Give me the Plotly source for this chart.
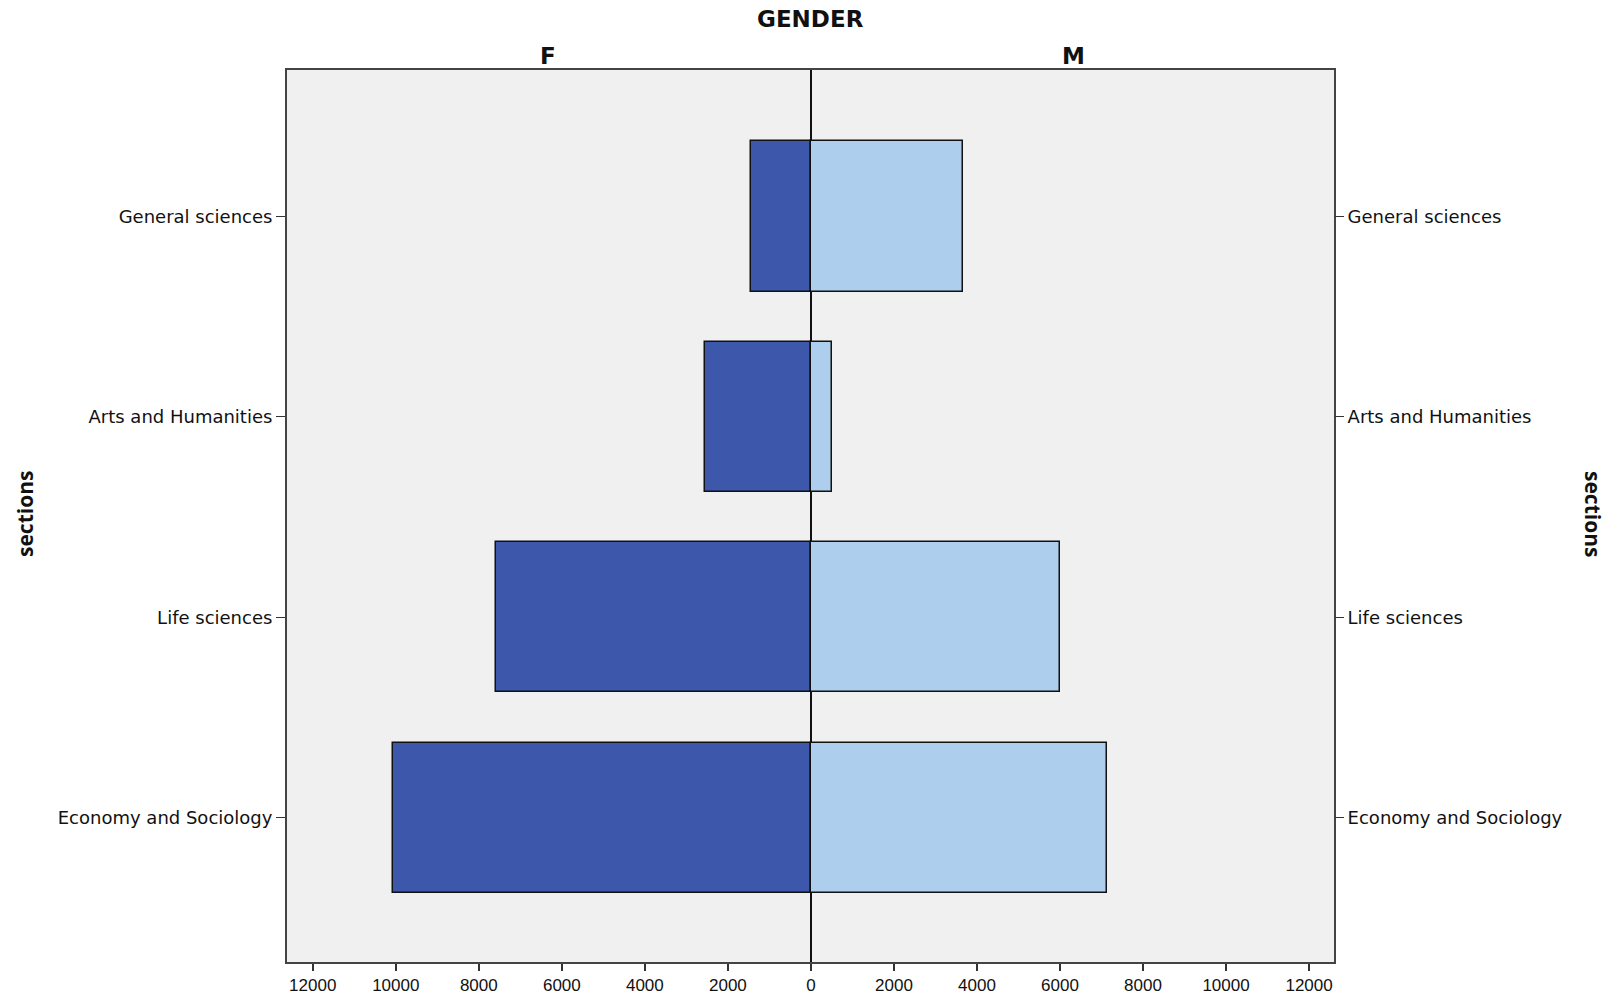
import plotly.graph_objects as go

categories = ["General sciences", "Arts and Humanities", "Life sciences", "Economy and Sociology"]
female = [1440, 2545, 7595, 10070]
male = [3665, 510, 5995, 7130]
tick_values = [-12000, -10000, -8000, -6000, -4000, -2000, 0, 2000, 4000, 6000, 8000, 10000, 12000]
tick_labels = [str(abs(v)) for v in tick_values]

ypos = list(range(len(categories)))

fig = go.Figure()
fig.add_trace(go.Bar(
    y=ypos, x=[-v for v in female], orientation="h", name="F",
    marker=dict(color="#3D58AB", line=dict(color="#111111", width=1.5)),
    width=0.75, showlegend=False, hoverinfo="skip",
))
fig.add_trace(go.Bar(
    y=ypos, x=male, orientation="h", name="M",
    marker=dict(color="#ADCFED", line=dict(color="#111111", width=1.5)),
    width=0.75, showlegend=False, hoverinfo="skip",
))
# invisible trace to activate right-hand category axis
fig.add_trace(go.Scatter(
    x=[0], y=[0], yaxis="y2", mode="markers", marker=dict(opacity=0),
    showlegend=False, hoverinfo="skip",
))

font_cat = dict(family="DejaVu Sans, Arial, sans-serif", size=18, color="#111111")

plot_l, plot_r, plot_t, plot_b = 287, 1334, 70, 962
W, H = 1612, 997

def px_to_paper(xp, yp):
    return (xp - plot_l) / (plot_r - plot_l), (plot_b - yp) / (plot_b - plot_t)

anns = []
for text, xp, yp, ang, fam, size in [
    ("<b>GENDER</b>", 810, 19, 0, "DejaVu Sans, Arial, sans-serif", 23),
    ("<b>F</b>", 548, 56, 0, "DejaVu Sans, Arial, sans-serif", 23),
    ("<b>M</b>", 1073, 56, 0, "DejaVu Sans, Arial, sans-serif", 23),
    ("<b>sections</b>", 25, 514, -90, "Open Sans, DejaVu Sans, sans-serif", 21),
    ("<b>sections</b>", 1593, 514, 90, "Open Sans, DejaVu Sans, sans-serif", 21),
]:
    xpp, ypp = px_to_paper(xp, yp)
    anns.append(dict(text=text, x=xpp, y=ypp, xref="paper", yref="paper",
                     showarrow=False, textangle=ang, xanchor="center", yanchor="middle",
                     font=dict(family=fam, size=size, color="#111111")))

fig.update_layout(
    width=W, height=H,
    margin=dict(l=plot_l, r=W - plot_r, t=plot_t, b=H - plot_b, pad=0),
    paper_bgcolor="white",
    plot_bgcolor="#F0F0F0",
    barmode="overlay",
    bargap=0,
    xaxis=dict(
        range=[-12620, 12600],
        tickvals=tick_values, ticktext=tick_labels,
        ticks="outside", ticklen=7, tickwidth=1.5, tickcolor="#333333",
        tickfont=dict(family="Liberation Sans, Arial, sans-serif", size=17, color="#111111"),
        showgrid=False,
        zeroline=True, zerolinecolor="#111111", zerolinewidth=1.5,
        showline=True, linecolor="#444444", linewidth=2, mirror=True,
        automargin=False, fixedrange=True,
    ),
    yaxis=dict(
        range=[3.72, -0.73],
        tickvals=ypos, ticktext=categories,
        ticks="outside", ticklen=9, tickwidth=1.2, tickcolor="#333333",
        tickfont=font_cat,
        showgrid=False, zeroline=False,
        showline=True, linecolor="#444444", linewidth=2, mirror=True,
        automargin=False, fixedrange=True,
    ),
    yaxis2=dict(
        overlaying="y", side="right", anchor="x",
        range=[3.72, -0.73],
        tickvals=ypos, ticktext=categories,
        ticks="outside", ticklen=9, tickwidth=1.2, tickcolor="#333333",
        tickfont=font_cat,
        showgrid=False, zeroline=False, showline=False,
        automargin=False, fixedrange=True,
    ),
    annotations=anns,
)

fig.write_html("out.html", config={"displayModeBar": False},
               post_script="document.body.style.margin='0';")
